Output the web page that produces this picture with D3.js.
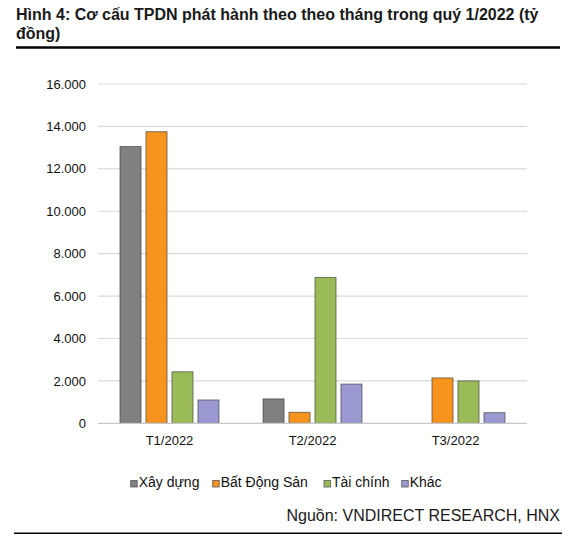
<!DOCTYPE html>
<html><head><meta charset="utf-8">
<script src="https://cdn.jsdelivr.net/npm/d3@7/dist/d3.min.js"></script>
<style>
html,body{margin:0;padding:0;background:#fff;}
svg{display:block;font-family:"Liberation Sans",Arial,sans-serif;}
</style>
</head><body>
<svg id="chart" width="583" height="543"></svg>
<script>
const categories = ["T1/2022", "T2/2022", "T3/2022"];
const seriesNames = ["Xây dựng", "Bất Động Sản", "Tài chính", "Khác"];
const xayDung   = [13050, 1150, 0];
const batDongSan = [13750, 520, 2140];
const taiChinh  = [2430, 6880, 2000];
const khac      = [1100, 1850, 500];
const yTicks = [0, 2000, 4000, 6000, 8000, 10000, 12000, 14000, 16000];
const colors = ["#808083", "#f7941d", "#9bbb59", "#9b99d1"];
const titleLines = ["Hình 4: Cơ cấu TPDN phát hành theo theo tháng trong quý 1/2022 (tỷ", "đồng)"];
const sourceText = "Nguồn: VNDIRECT RESEARCH, HNX";

const seriesValues = [xayDung, batDongSan, taiChinh, khac];
const svg = d3.select("#chart");

// Title
svg.append("g").selectAll("text").data(titleLines).join("text")
  .attr("x", 16).attr("y", (d, i) => 19.5 + i * 19)
  .attr("font-size", 16).attr("font-weight", "bold").attr("fill", "#1a1a1a")
  .text(d => d);
svg.append("line").attr("x1", 16).attr("x2", 560).attr("y1", 47.5).attr("y2", 47.5)
  .attr("stroke", "#000").attr("stroke-width", 2.6);

// Scales
const y = d3.scaleLinear().domain([0, 16000]).range([423.3, 84]);
const x0 = d3.scaleBand().domain(categories).range([98, 527])
  .paddingInner(0.3077).paddingOuter(0.1538);
const x1 = d3.scaleBand().domain(seriesNames).range([0, x0.bandwidth()]).paddingInner(0.19).paddingOuter(0);

const loc = d3.formatLocale({decimal: ",", thousands: ".", grouping: [3], currency: ["", ""]});
const fmt = loc.format(",d");

// Gridlines
svg.append("g").selectAll("line").data(yTicks.filter(t => t > 0)).join("line")
  .attr("x1", 98).attr("x2", 527)
  .attr("y1", d => y(d)).attr("y2", d => y(d))
  .attr("stroke", "#d9d9d9").attr("stroke-width", 1.2);

// Y axis labels
const yAxis = d3.axisLeft(y).tickValues(yTicks).tickFormat(fmt).tickSize(0).tickPadding(0);
const gy = svg.append("g").attr("transform", "translate(86,0)").call(yAxis);
gy.select(".domain").remove();
gy.selectAll("text").attr("font-size", 13).attr("fill", "#111")
  .attr("font-family", "'Liberation Sans',Arial,sans-serif");

// Bars
const barData = [];
categories.forEach((c, ci) => seriesNames.forEach((s, si) => {
  barData.push({cat: c, series: s, si: si, value: seriesValues[si][ci]});
}));
svg.append("g").selectAll("rect").data(barData.filter(d => d.value > 0)).join("rect")
  .attr("x", d => x0(d.cat) + x1(d.series))
  .attr("y", d => y(d.value))
  .attr("width", x1.bandwidth())
  .attr("height", d => y(0) - y(d.value))
  .attr("fill", d => colors[d.si])
  .attr("stroke", "#3a3a3a").attr("stroke-opacity", 0.7).attr("stroke-width", 0.9);

// X axis baseline
svg.append("line").attr("x1", 98).attr("x2", 527).attr("y1", y(0)).attr("y2", y(0))
  .attr("stroke", "#c8c8c8").attr("stroke-width", 1.2);
const xAxis = d3.axisBottom(x0).tickSize(0).tickPadding(0);
const gx = svg.append("g").attr("transform", "translate(0,435.5)").call(xAxis);
gx.select(".domain").remove();
gx.selectAll("text").attr("font-size", 13).attr("fill", "#111")
  .attr("font-family", "'Liberation Sans',Arial,sans-serif");

// Legend
const legendX = [130.7, 212.7, 324, 401.7];
const lg = svg.append("g").selectAll("g").data(seriesNames).join("g")
  .attr("transform", (d, i) => `translate(${legendX[i]},480.5)`);
lg.append("rect").attr("width", 6.5).attr("height", 6.5)
  .attr("fill", (d, i) => colors[i]).attr("stroke", "#555").attr("stroke-width", 0.8);
lg.append("text").attr("x", 8).attr("y", 6.6).attr("font-size", 14).attr("fill", "#111")
  .text(d => d);

// Source
svg.append("text").attr("x", 560).attr("y", 521).attr("text-anchor", "end")
  .attr("font-size", 16).attr("fill", "#1a1a1a").text(sourceText);
svg.append("line").attr("x1", 14).attr("x2", 562).attr("y1", 533.3).attr("y2", 533.3)
  .attr("stroke", "#000").attr("stroke-width", 1.4);
</script>
</body></html>
